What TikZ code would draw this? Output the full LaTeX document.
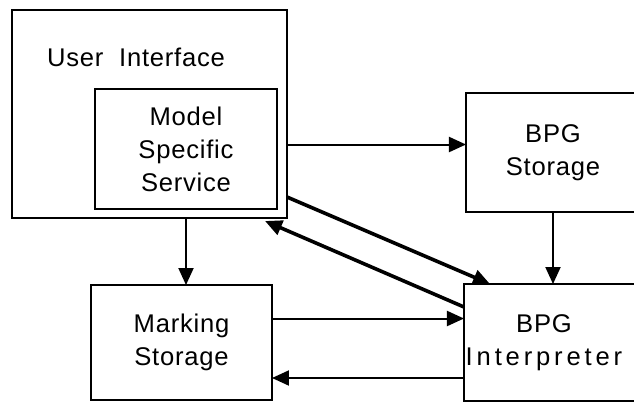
\documentclass[tikz,border=0pt]{standalone}
\usepackage{fontspec}
\newfontfamily\diagfont[LetterSpace=3]{Liberation Sans}
\usetikzlibrary{arrows.meta, positioning}

\begin{document}
\begin{tikzpicture}[
          x=0.5pt, y=-0.5pt,
          box/.style={rectangle, draw, line width=1.4pt, inner sep=0pt, outer sep=0pt, align=center, font=\diagfont\fontsize{12.8}{16.5}\selectfont},
          arrow/.style={-{Triangle[length=8.5pt, width=7.5pt]}, line width=1pt},
          slant/.style={-{Triangle[length=8.5pt, width=7.5pt]}, line width=1.8pt}
        ]
          \useasboundingbox (0,0) rectangle (634,404);
          \clip (0,0) rectangle (634,404);

          % boxes
          \node (ui) [box, minimum width=137.5pt, minimum height=104pt] at (149.5,114) {};
          \node (uilabel) [font=\diagfont\fontsize{12.8}{16.5}\selectfont] at (136,57) {User\ \ Interface};
          \node (mss) [box, minimum width=91pt, minimum height=60pt] at (186,149) {Model\\Specific\\Service};
          \node (bpgstore) [box, minimum width=87pt, minimum height=59.5pt] at (553,152.5) {BPG\\Storage};
          \node (marking) [box, minimum width=90.5pt, minimum height=57.5pt] at (181.5,342.5) {Marking\\Storage};
          \node (interp) [box, minimum width=89pt, minimum height=58.5pt] at (553,342.5) {\hspace*{-9pt}BPG\\\hspace*{-9pt}{\addfontfeature{LetterSpace=15}Interpreter}};

          % connectors
          \coordinate (uitobs) at ([yshift=4pt]bpgstore.west);
          \draw [arrow] (ui.east |- uitobs) -- (uitobs);
          \draw [arrow] (mss.south |- ui.south) -- (mss.south |- marking.north);
          \draw [arrow] (bpgstore.south) -- (interp.north);
          \draw [arrow] ([yshift=12pt]marking.east) -- ([yshift=12pt]interp.west);
          \draw [arrow] ([yshift=-17.75pt]interp.west) -- ([yshift=-17.75pt]marking.east);
          \draw [slant] ([yshift=-41.5pt]ui.east) -- ([xshift=13pt]interp.north west);
          \draw [slant] ([yshift=17.75pt]interp.west) -- ([xshift=-11pt, yshift=-1.5pt]ui.south east);
        \end{tikzpicture}
\end{document}
